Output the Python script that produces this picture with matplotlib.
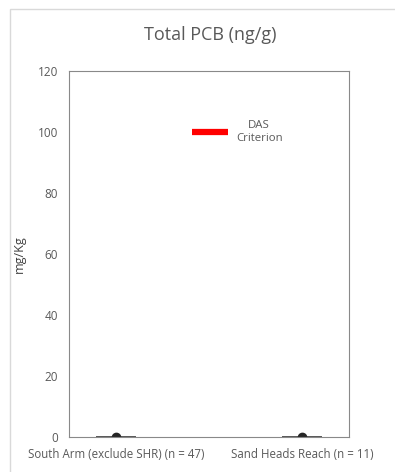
import matplotlib.pyplot as plt
from matplotlib.patches import Rectangle

# sites and summary stats for total PCB (ng/g)
sites = ['South Arm (exclude SHR) (n = 47)', 'Sand Heads Reach (n = 11)']
q1 = [0.0, 0.0]
median = [0.05, 0.05]
q3 = [0.1, 0.1]
whis_lo = [0.0, 0.0]
whis_hi = [0.2, 0.2]
mean = [0.1, 0.1]

das_criterion = 100
das_span = [0.41, 0.60]
yticks = [0, 20, 40, 60, 80, 100, 120]

plt.rcParams['font.family'] = ['Open Sans', 'DejaVu Sans']
txt = '#595959'

fig = plt.figure(figsize=(3.95, 4.72), dpi=100)
fig.patches.append(Rectangle((10 / 395, -0.1), 1.2, 1 - 9 / 472 + 0.1,
                             transform=fig.transFigure, fill=False,
                             edgecolor='#d9d9d9', linewidth=1.0))
ax = fig.add_axes([69 / 395, 35 / 472, 280 / 395, 366 / 472])

stats = []
for i in range(len(sites)):
    stats.append(dict(q1=q1[i], med=median[i], q3=q3[i], whislo=whis_lo[i],
                      whishi=whis_hi[i], mean=mean[i], fliers=[]))
line_kw = dict(color='#595959', linewidth=1.2)
ax.bxp(stats, positions=range(len(sites)), widths=0.2, showmeans=True,
       showcaps=False, boxprops=line_kw, medianprops=line_kw,
       whiskerprops=line_kw,
       meanprops=dict(marker='o', markerfacecolor='#262626',
                      markeredgecolor='#262626', markersize=6))

ax.hlines(das_criterion, das_span[0], das_span[1], color='#ff0000', linewidth=4.5)
ax.text(0.77, das_criterion, 'DAS\nCriterion', ha='center', va='center',
        fontsize=8.2, color=txt, linespacing=1.35)

ax.set_xlim(-0.2527, 1.2527)
ax.set_ylim(0, 120)
ax.set_yticks(yticks)
ax.set_xticks(range(len(sites)))
ax.set_xticklabels(sites)
ax.tick_params(length=0, labelsize=8.5, labelcolor=txt)
ax.tick_params(axis='x', labelsize=8.3, pad=8)
ax.tick_params(axis='y', pad=8)
for s in ax.spines.values():
    s.set_color('#898989')
    s.set_linewidth(0.8)

ax.set_ylabel('mg/Kg', fontsize=9, color='#404040')
ax.yaxis.set_label_coords(-0.155, 0.5)
fig.text(210 / 395, 1 - 35 / 472, 'Total PCB (ng/g)', ha='center', va='center',
         fontsize=13, color=txt)

fig.savefig('out.png', dpi=100)
